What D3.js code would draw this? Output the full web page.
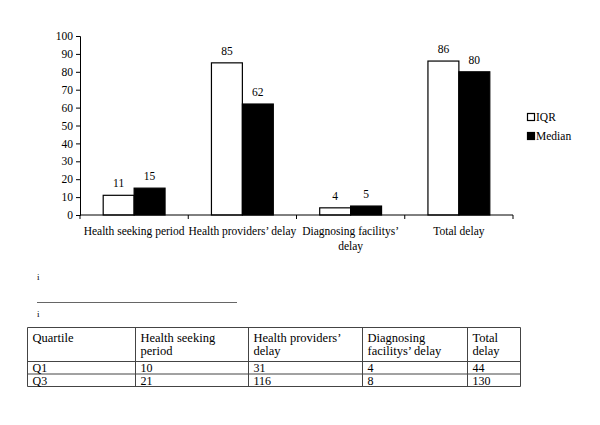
<!DOCTYPE html>
<html lang="en">
<head>
    <meta charset="UTF-8">
    <title>Delay chart</title>
    <style>
        body { margin: 0; background: #ffffff; }
        svg { display: block; }
        text { font-family: "Liberation Serif", "Times New Roman", serif; fill: #000; }
    </style>
    <script src="https://d3js.org/d3.v7.min.js"></script>
</head>
<body>
    <svg width="600" height="425"></svg>
    <script>
        const categories = ["Health seeking period", "Health providers’ delay", "Diagnosing facilitys’ delay", "Total delay"];
        const categoryLines = [["Health seeking period"], ["Health providers’ delay"], ["Diagnosing facilitys’", "delay"], ["Total delay"]];
        const seriesNames = ["IQR", "Median"];
        const iqr = [11, 85, 4, 86];
        const median = [15, 62, 5, 80];
        const yTicks = [0, 10, 20, 30, 40, 50, 60, 70, 80, 90, 100];

        const tableHeader = [["Quartile"], ["Health seeking", "period"], ["Health providers’", "delay"], ["Diagnosing", "facilitys’ delay"], ["Total", "delay"]];
        const tableRows = [
            ["Q1", "10", "31", "4", "44"],
            ["Q3", "21", "116", "8", "130"]
        ];

        const svg = d3.select("svg");

        const x = d3.scaleBand().domain(categories).range([80, 513]).padding(0);
        const xs = d3.scaleBand().domain(seriesNames).range([0, x.bandwidth()]).paddingOuter(0.75).paddingInner(0);
        const y = d3.scaleLinear().domain([0, 100]).range([215, 36]);

        // y axis
        const yAxis = svg.append("g")
            .attr("transform", "translate(80,0)")
            .call(d3.axisLeft(y).tickValues(yTicks).tickSize(4).tickPadding(3));
        yAxis.attr("font-family", null);
        yAxis.selectAll("text").style("font-size", "11.5px");
        yAxis.selectAll("line, path").attr("stroke", "#000");

        // bars
        const data = categories.map((c, i) => ({ cat: c, vals: [iqr[i], median[i]] }));
        const groups = svg.selectAll("g.grp").data(data).join("g")
            .attr("class", "grp")
            .attr("transform", d => `translate(${x(d.cat)},0)`);

        groups.selectAll("rect").data(d => d.vals.map((v, j) => ({ s: seriesNames[j], v }))).join("rect")
            .attr("x", d => xs(d.s))
            .attr("y", d => y(d.v))
            .attr("width", xs.bandwidth())
            .attr("height", d => y(0) - y(d.v))
            .attr("fill", d => d.s === "IQR" ? "#fff" : "#000")
            .attr("stroke", "#000")
            .attr("stroke-width", 1.2);

        groups.selectAll("text.val").data(d => d.vals.map((v, j) => ({ s: seriesNames[j], v }))).join("text")
            .attr("class", "val")
            .attr("x", d => xs(d.s) + xs.bandwidth() / 2)
            .attr("y", d => y(d.v) - 8)
            .attr("text-anchor", "middle")
            .style("font-size", "11.5px")
            .text(d => d.v);

        // x axis
        const xAxisG = svg.append("g");
        xAxisG.append("line")
            .attr("x1", 80).attr("x2", 513)
            .attr("y1", y(0)).attr("y2", y(0))
            .attr("stroke", "#000");
        const tickXs = categories.map(c => x(c)).concat([x(categories[categories.length - 1]) + x.bandwidth()]);
        xAxisG.selectAll("line.tk").data(tickXs).join("line")
            .attr("class", "tk")
            .attr("x1", d => d).attr("x2", d => d)
            .attr("y1", y(0)).attr("y2", y(0) + 4)
            .attr("stroke", "#000");
        categories.forEach((c, i) => {
            const t = xAxisG.append("text")
                .attr("x", x(c) + x.bandwidth() / 2)
                .attr("y", 235)
                .attr("text-anchor", "middle")
                .style("font-size", "11.5px");
            categoryLines[i].forEach((ln, k) => {
                t.append("tspan").attr("x", x(c) + x.bandwidth() / 2).attr("dy", k === 0 ? 0 : 15).text(ln);
            });
        });

        // legend
        const legend = svg.append("g").attr("transform", "translate(527,113)");
        seriesNames.forEach((s, i) => {
            legend.append("rect")
                .attr("x", 0.5).attr("y", i * 19 + 0.5)
                .attr("width", 7).attr("height", 7)
                .attr("fill", s === "IQR" ? "#fff" : "#000")
                .attr("stroke", "#000").attr("stroke-width", 1.2);
            legend.append("text")
                .attr("x", 9).attr("y", i * 19 + 8)
                .style("font-size", "11.5px")
                .text(s);
        });

        // footnote marks
        svg.append("text").attr("x", 37).attr("y", 280).style("font-size", "9px").text("i");
        svg.append("line").attr("x1", 37).attr("x2", 237).attr("y1", 302.5).attr("y2", 302.5)
            .attr("stroke", "#666").attr("stroke-width", 1);
        svg.append("text").attr("x", 37).attr("y", 317).style("font-size", "9px").text("i");

        // table
        const colX = [27.5, 135.5, 248.5, 362.5, 467.5, 520.5];
        const rowY = [327.5, 361.5, 374, 386.5];
        const tbl = svg.append("g");
        tbl.selectAll("line.h").data(rowY).join("line")
            .attr("x1", colX[0]).attr("x2", colX[colX.length - 1])
            .attr("y1", d => d).attr("y2", d => d)
            .attr("stroke", "#444");
        tbl.selectAll("line.v").data(colX).join("line")
            .attr("x1", d => d).attr("x2", d => d)
            .attr("y1", rowY[0]).attr("y2", rowY[rowY.length - 1])
            .attr("stroke", "#444");
        tableHeader.forEach((lines, j) => {
            lines.forEach((ln, k) => {
                tbl.append("text")
                    .attr("x", colX[j] + 5)
                    .attr("y", rowY[0] + 14 + k * 13.5)
                    .style("font-size", "12.5px")
                    .text(ln);
            });
        });
        tableRows.forEach((row, r) => {
            row.forEach((cell, j) => {
                tbl.append("text")
                    .attr("x", colX[j] + 5)
                    .attr("y", rowY[r + 2] - 2)
                    .style("font-size", "12px")
                    .text(cell);
            });
        });
    </script>
</body>
</html>
